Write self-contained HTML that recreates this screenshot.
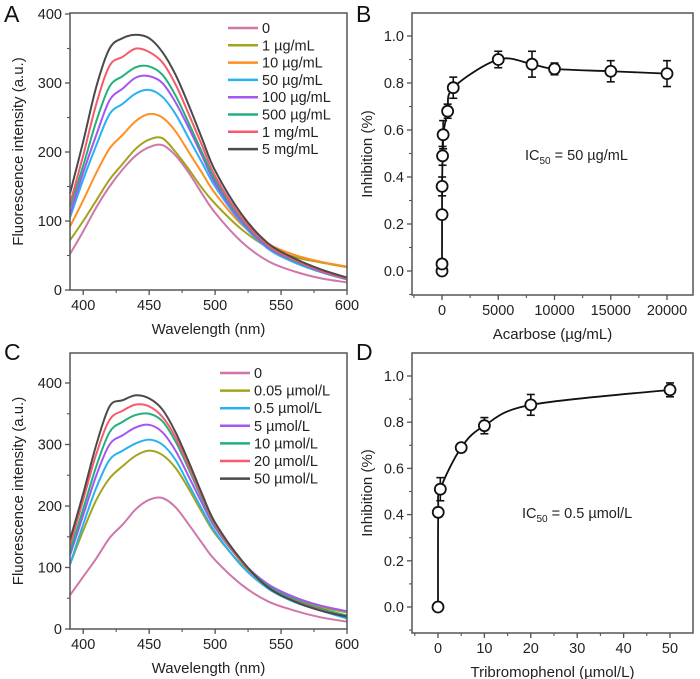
<!DOCTYPE html>
<html><head><meta charset="utf-8"><style>
html,body{margin:0;padding:0;background:#fff}
svg{display:block;font-family:"Liberation Sans",Arial,sans-serif}
</style></head><body>
<svg id="fig" width="700" height="679" viewBox="0 0 700 679"></svg>
<script>
// ---------- data ----------
const wl = [390,400,410,420,430,440,450,460,470,480,490,500,520,540,560,580,600];
const labelsA = ["0","1 µg/mL","10 µg/mL","50 µg/mL","100 µg/mL","500 µg/mL","1 mg/mL","5 mg/mL"];
const A0   = [52,85,120,150,175,195,207,210,195,170,140,112,70,42,27,17,11];
const A1   = [72,100,130,160,183,205,218,220,200,175,148,125,88,62,48,40,33];
const A10  = [92,130,170,205,225,245,255,250,230,200,170,140,95,67,51,41,34];
const A50  = [105,160,210,255,270,285,290,280,255,220,185,150,97,60,40,26,15];
const A100 = [110,170,225,275,292,308,310,300,272,235,195,155,100,62,42,27,16];
const A500 = [120,180,245,295,310,323,324,312,282,242,200,160,103,64,43,28,16];
const A1m  = [125,195,270,325,338,350,345,330,298,255,210,165,105,65,44,28,16];
const A5m  = [140,215,295,350,365,370,365,345,312,268,220,173,110,68,46,30,18];
const labelsC = ["0","0.05 µmol/L","0.5 µmol/L","5 µmol/L","10 µmol/L","20 µmol/L","50 µmol/L"];
const C0   = [55,85,115,148,170,195,210,213,198,170,140,112,72,45,30,19,12];
const C005 = [105,160,210,245,265,282,290,283,262,228,190,155,105,70,50,36,27];
const C05  = [105,170,230,275,290,302,308,300,275,235,195,158,103,66,44,30,17];
const C5   = [120,185,250,300,315,328,332,320,290,248,205,165,110,73,52,38,29];
const C10  = [125,195,265,320,337,348,350,338,305,260,212,168,110,70,48,33,22];
const C20  = [135,210,285,340,355,365,362,345,312,265,216,170,110,68,46,31,20];
const C50  = [145,220,300,362,372,380,375,357,320,272,220,173,112,68,45,30,20];
const colorsA = ["#cf77aa","#a3a31e","#ff8f22","#27b3f2","#a655f2","#22b07c","#f65a6c","#4a4a4a"];
const colorsC = ["#cf77aa","#a3a31e","#27b3f2","#a655f2","#22b07c","#f65a6c","#4a4a4a"];
const bX = [0,1,5,10,50,100,500,1000,5000,8000,10000,15000,20000];
const bY = [0,0.03,0.24,0.36,0.49,0.58,0.68,0.78,0.90,0.88,0.86,0.85,0.84];
const bE = [0,0.01,0.01,0.04,0.04,0.06,0.03,0.045,0.035,0.055,0.025,0.045,0.055];
const dX = [0,0.05,0.5,5,10,20,50];
const dY = [0,0.41,0.51,0.69,0.785,0.875,0.94];
const dE = [0,0.01,0.05,0.01,0.035,0.045,0.03];
const ticksWl = [400,450,500,550,600];
const ticksFA = [0,100,200,300,400];
const ticksInh = [0.0,0.2,0.4,0.6,0.8,1.0];
const ticksB = [0,5000,10000,15000,20000];
const ticksD = [0,10,20,30,40,50];

// ---------- helpers ----------
const NS="http://www.w3.org/2000/svg";
const svg=document.getElementById('fig');
function mk(tag,attrs,parent){const e=document.createElementNS(NS,tag);for(const k in attrs)e.setAttribute(k,attrs[k]);(parent||svg).appendChild(e);return e;}
function txt(s,x,y,size,anchor,parent){const t=mk('text',{x:x,y:y,'font-size':size,'text-anchor':anchor||'start',fill:'#222'},parent);t.textContent=s;return t;}
function scale(d0,d1,r0,r1){return v=>r0+(v-d0)*(r1-r0)/(d1-d0);}
function crPath(pts){let d='M'+pts[0][0].toFixed(2)+','+pts[0][1].toFixed(2);
 for(let i=0;i<pts.length-1;i++){const p0=pts[Math.max(i-1,0)],p1=pts[i],p2=pts[i+1],p3=pts[Math.min(i+2,pts.length-1)];
  const c1=[p1[0]+(p2[0]-p0[0])/6,p1[1]+(p2[1]-p0[1])/6],c2=[p2[0]-(p3[0]-p1[0])/6,p2[1]-(p3[1]-p1[1])/6];
  d+=' C'+c1[0].toFixed(2)+','+c1[1].toFixed(2)+' '+c2[0].toFixed(2)+','+c2[1].toFixed(2)+' '+p2[0].toFixed(2)+','+p2[1].toFixed(2);}
 return d;}

function frame(g,L,T,R,B,xs,ys,xt,yt,xminor,yminor,fmtY){
 const box=mk('rect',{x:L,y:T,width:R-L,height:B-T,fill:'none',stroke:'#555','stroke-width':1.5},g);
 
 xt.forEach(v=>{const x=xs(v);mk('line',{x1:x,y1:B,x2:x,y2:B+5,stroke:'#555','stroke-width':1.3},g);
  const t=txt(String(v),x,B+20,14.5,'middle',g);});
 xminor.forEach(v=>{const x=xs(v);if(x>L&&x<R)mk('line',{x1:x,y1:B,x2:x,y2:B+3,stroke:'#555','stroke-width':1.1},g);});
 yt.forEach(v=>{const y=ys(v);mk('line',{x1:L-5,y1:y,x2:L,y2:y,stroke:'#555','stroke-width':1.3},g);
  const t=txt(fmtY(v),L-8,y+5,14.5,'end',g);});
 yminor.forEach(v=>{const y=ys(v);if(y>T&&y<B)mk('line',{x1:L-3,y1:y,x2:L,y2:y,stroke:'#555','stroke-width':1.1},g);});
}
function yTitle(g,s,x,y){const t=txt(s,0,0,15,'middle',g);t.setAttribute('transform','translate('+x+','+y+') rotate(-90)');}
function letter(s,x,y){const t=txt(s,x,y,23,'start');t.setAttribute('fill','#111');}

// ---------- spectra panels ----------
function spectra(id,T,B,y400,series,colors,labels,legX,legY,legStep){
 const g=mk('g',{});
 const L=70,R=347;const xs=scale(390,600,L,R);const ys=scale(0,400,B,y400);
 const minorX=[];for(let v=400;v<=600;v+=25)minorX.push(v);
 const minorY=[];for(let v=50;v<=450;v+=100)minorY.push(v);
 series.forEach((s,i)=>{const p=mk('path',{d:crPath(wl.map((w,j)=>[xs(w),ys(s[j])])),fill:'none',stroke:colors[i],'stroke-width':2},g);
  });
 frame(g,L,T,R,B,xs,ys,ticksWl,ticksFA,minorX,minorY,v=>String(v));
 labels.forEach((lb,i)=>{const y=legY+i*legStep;
  const ln=mk('line',{x1:legX,y1:y,x2:legX+30,y2:y,stroke:colors[i],'stroke-width':2.5},g);
  const t=txt(lb,legX+34,y+5,14.5,'start',g);});
 const xt=txt('Wavelength (nm)',(L+R)/2,B+44,15,'middle',g);
 yTitle(g,'Fluorescence intensity (a.u.)',23,(T+B)/2);
}
spectra('panel-a-chart',13,290,14,[A0,A1,A10,A50,A100,A500,A1m,A5m],colorsA,labelsA,228,28,17.3);
spectra('panel-c-chart',353,629,383,[C0,C005,C05,C5,C10,C20,C50],colorsC,labelsC,220,373,17.6);

// ---------- inhibition panels ----------
function inhib(id,T,B,y1,y0,xd0,xd1,xs0,xs1,xs,ysv,es,xt,xminorStep,xTitle,ic,icX,icY){
 const g=mk('g',{});
 const L=412,R=693;const xsc=scale(xd0,xd1,xs0,xs1);const ysc=scale(0,1,y0,y1);
 const minorX=[];for(let v=xt[0]-xminorStep;v<=xt[xt.length-1]+xminorStep;v+=xminorStep)minorX.push(v);
 const minorY=[-0.1,0.1,0.3,0.5,0.7,0.9];
 frame(g,L,T,R,B,xsc,ysc,xt,ticksInh,minorX,minorY,v=>v.toFixed(1));
 const c=mk('path',{d:crPath(xs.map((x,i)=>[xsc(x),ysc(ysv[i])])),fill:'none',stroke:'#111','stroke-width':1.8},g);
 
 xs.forEach((x,i)=>{const px=xsc(x),py=ysc(ysv[i]),e=es[i]*(y0-y1);
  if(e>1){mk('line',{x1:px,y1:py-e,x2:px,y2:py+e,stroke:'#111','stroke-width':1.6},g);
   mk('line',{x1:px-4,y1:py-e,x2:px+4,y2:py-e,stroke:'#111','stroke-width':1.6},g);
   mk('line',{x1:px-4,y1:py+e,x2:px+4,y2:py+e,stroke:'#111','stroke-width':1.6},g);}
  const m=mk('circle',{cx:px,cy:py,r:5.5,fill:'#fff',stroke:'#111','stroke-width':1.8},g);
  });
 const t=txt(xTitle,(L+R)/2,B+44,15,'middle',g);
 yTitle(g,'Inhibition (%)',372,(T+B)/2);
 const it=mk('text',{x:icX,y:icY,'font-size':14.5,fill:'#222'},g);
 const a=document.createElementNS(NS,'tspan');a.textContent='IC';it.appendChild(a);
 const b=document.createElementNS(NS,'tspan');b.setAttribute('font-size','10');b.setAttribute('dy','4');b.textContent='50';it.appendChild(b);
 const cc=document.createElementNS(NS,'tspan');cc.setAttribute('dy','-4');cc.textContent=' = '+ic;it.appendChild(cc);
}
inhib('panel-b-chart',13,295,36,271,0,20000,442,667,bX,bY,bE,ticksB,2500,'Acarbose (µg/mL)','50 µg/mL',525,160);
inhib('panel-d-chart',353,633,376,607,0,50,438,670,dX,dY,dE,ticksD,5,'Tribromophenol (µmol/L)','0.5 µmol/L',522,518);

letter('A',4,22);letter('B',356,22);letter('C',4,360);letter('D',356,360);
</script>
</body></html>
